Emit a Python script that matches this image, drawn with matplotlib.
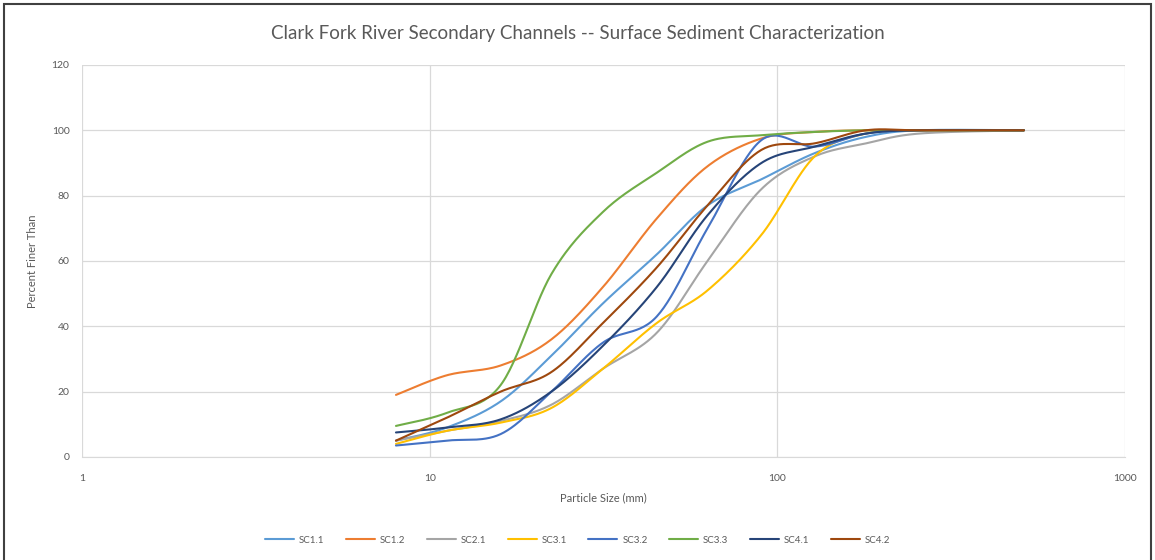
import numpy as np
import matplotlib
matplotlib.use("Agg")
import matplotlib.pyplot as plt
from matplotlib.patches import Rectangle

# Sieve sizes (mm) and percent finer for each secondary-channel sample
sizes = [8, 11.2, 16, 22.4, 31.5, 45, 63, 90, 128, 180, 256, 512]

sc1_1 = [5, 9, 17, 31, 47, 62, 77, 85, 93, 98, 100, 100]
sc1_2 = [19, 25, 28, 36, 52, 73, 89, 97.5, 99.5, 100, 100, 100]
sc2_1 = [5, 8, 11, 16, 27, 38, 60, 82, 92, 96, 99, 100]
sc3_1 = [4, 8, 10.5, 15, 27, 41, 51, 68, 92, 99, 100, 100]
sc3_2 = [3.5, 5, 7, 20, 35, 43, 70, 97, 95, 99, 100, 100]
sc3_3 = [9.5, 13.5, 22, 56, 75, 87, 96.5, 98.5, 99.5, 100, 100, 100]
sc4_1 = [7.5, 9, 11.5, 20, 34, 52, 74, 90, 95, 99, 100, 100]
sc4_2 = [5, 12, 20, 26, 41, 58, 77, 94, 96, 100, 100, 100]

series_names = ["SC1.1", "SC1.2", "SC2.1", "SC3.1", "SC3.2", "SC3.3", "SC4.1", "SC4.2"]
series_values = [sc1_1, sc1_2, sc2_1, sc3_1, sc3_2, sc3_3, sc4_1, sc4_2]
series_colors = ["#5B9BD5", "#ED7D31", "#A5A5A5", "#FFC000",
                 "#4472C4", "#70AD47", "#264478", "#9E480E"]

y_ticks = [0, 20, 40, 60, 80, 100, 120]
x_ticks = [1, 10, 100, 1000]


def smooth(xs, ys, n=30):
    """Catmull-Rom style Bezier smoothing in (log10 x, y) space."""
    u = np.log10(np.asarray(xs, float))
    v = np.asarray(ys, float)
    pts = np.column_stack([u, v])
    out = [pts[0]]
    t = np.linspace(0, 1, n)[1:, None]
    for i in range(len(pts) - 1):
        p0 = pts[i - 1] if i > 0 else pts[i]
        p1, p2 = pts[i], pts[i + 1]
        p3 = pts[i + 2] if i + 2 < len(pts) else pts[i + 1]
        c1 = p1 + (p2 - p0) / 6.0
        c2 = p2 - (p3 - p1) / 6.0
        seg = ((1 - t) ** 3) * p1 + 3 * ((1 - t) ** 2) * t * c1 \
            + 3 * (1 - t) * t ** 2 * c2 + t ** 3 * p2
        out.extend(seg)
    out = np.array(out)
    return 10 ** out[:, 0], out[:, 1]


plt.rcParams["font.family"] = ["Lato", "DejaVu Sans"]

fig = plt.figure(figsize=(11.55, 5.6), dpi=100)
ax = fig.add_axes([0.071, 0.184, 0.903, 0.700])

for name, vals, col in zip(series_names, series_values, series_colors):
    sx, sy = smooth(sizes, vals)
    ax.plot(sx, sy, color=col, lw=1.5, label=name, solid_capstyle="round")

ax.set_xscale("log")
ax.set_xlim(1, 1000)
ax.set_ylim(0, 120)
ax.set_xticks(x_ticks)
ax.set_xticklabels([str(v) for v in x_ticks])
ax.set_yticks(y_ticks)
ax.minorticks_off()
ax.grid(True, color="#D9D9D9", lw=0.9)
ax.set_axisbelow(True)
for s in ["top", "right", "left"]:
    ax.spines[s].set_visible(False)
ax.spines["bottom"].set_color("#D9D9D9")
ax.tick_params(axis="both", length=0, labelsize=7.5, labelcolor="#595959")
ax.tick_params(axis="x", pad=12)
ax.tick_params(axis="y", pad=9)

ax.set_xlabel("Particle Size (mm)", fontsize=8, color="#595959", labelpad=7)
ax.set_ylabel("Percent Finer Than", fontsize=8, color="#595959", labelpad=10)

fig.text(0.5, 0.94, "Clark Fork River Secondary Channels -- Surface Sediment Characterization",
         ha="center", va="center", fontsize=13.5, color="#595959")

leg = fig.legend(loc="center", bbox_to_anchor=(0.5, 0.035), ncol=8, frameon=False,
                 fontsize=7, handlelength=3.0, columnspacing=2.2, handletextpad=0.5)
for t in leg.get_texts():
    t.set_color("#595959")

# chart frame
fig.patches.append(Rectangle((4 / 1155, -0.05), 1147 / 1155, 1.05 - 4 / 560,
                             transform=fig.transFigure, fill=False,
                             edgecolor="#404040", lw=1.5))

fig.savefig("out.png", dpi=100, facecolor="white")
